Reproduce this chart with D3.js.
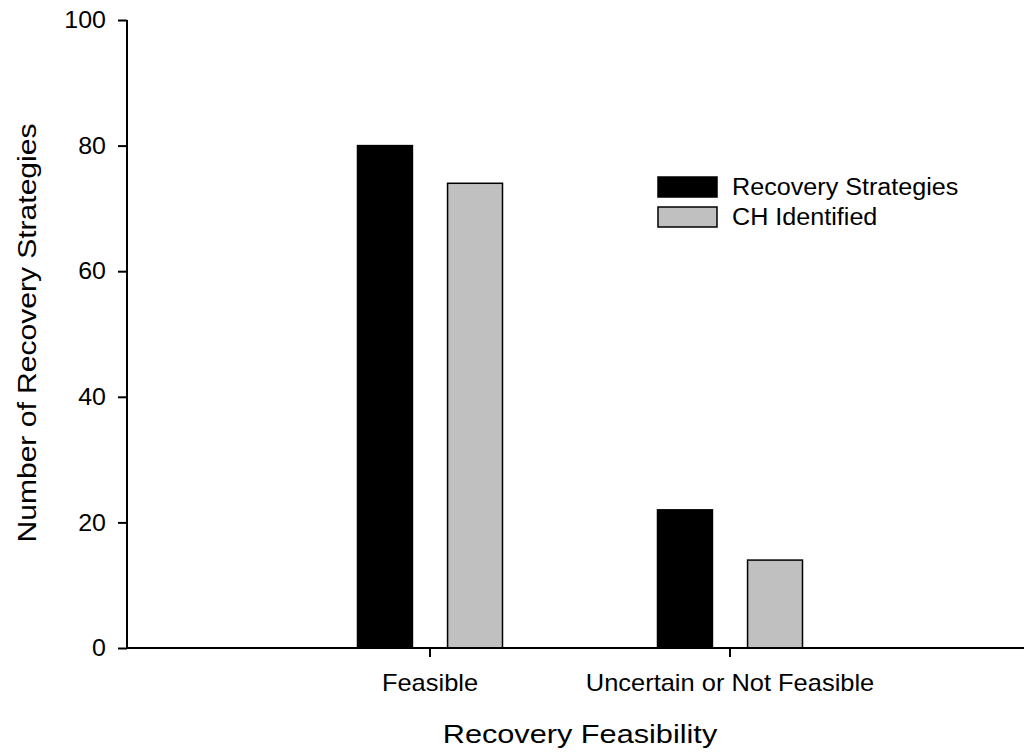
<!DOCTYPE html>
<html>
<head>
<meta charset="utf-8">
<script src="https://cdn.jsdelivr.net/npm/d3@7"></script>
<style>
  body { margin: 0; background: #fff; }
  svg text { font-family: "Liberation Sans", Arial, sans-serif; fill: #000; }
</style>
</head>
<body>
<div id="container"></div>
<script>
const width = 1024,
  height = 755

/* DATA */
const categories = ["Feasible", "Uncertain or Not Feasible"]
const seriesNames = ["Recovery Strategies", "CH Identified"]
const recoveryStrategies = [80, 22]
const chIdentified = [74, 14]
const yTicks = [0, 20, 40, 60, 80, 100]

const seriesColors = ["#000000", "#c0c0c0"]

const rows = categories.map((c, i) => ({
  category: c,
  values: [
    { series: seriesNames[0], value: recoveryStrategies[i] },
    { series: seriesNames[1], value: chIdentified[i] }
  ]
}))

// widen text a bit along its baseline (the original font renders wider)
function stretch(sel, factor) {
  sel.each(function () {
    const w = this.getComputedTextLength()
    d3.select(this)
      .attr("textLength", w * factor)
      .attr("lengthAdjust", "spacingAndGlyphs")
  })
}

/* SCALES */
const yScale = d3.scaleLinear()
  .domain([0, 100])
  .range([648, 20])

const xScale = d3.scaleBand()
  .domain(categories)
  .range([130, 1030])
  .paddingInner(0)
  .paddingOuter(0.5)

const subScale = d3.scaleBand()
  .domain(seriesNames)
  .range([-72.5, 72.5])
  .paddingInner(0.39)

const color = d3.scaleOrdinal().domain(seriesNames).range(seriesColors)

/* SVG */
const svg = d3.select("#container").append("svg")
  .attr("width", width)
  .attr("height", height)

// bars
const group = svg.selectAll("g.group")
  .data(rows)
  .join("g")
  .attr("class", "group")
  .attr("transform", d => `translate(${xScale(d.category) + xScale.bandwidth() / 2},0)`)

group.selectAll("rect")
  .data(d => d.values)
  .join("rect")
  .attr("x", d => subScale(d.series))
  .attr("width", subScale.bandwidth())
  .attr("y", d => yScale(d.value))
  .attr("height", d => yScale(0) - yScale(d.value))
  .attr("fill", d => color(d.series))
  .attr("stroke", "#000")
  .attr("stroke-width", 1.5)

// y axis
const yAxis = d3.axisLeft(yScale)
  .tickValues(yTicks)
  .tickSize(9)
  .tickPadding(12)

svg.append("g")
  .attr("class", "y-axis")
  .attr("transform", "translate(127,0)")
  .call(yAxis)
  .call(g => g.select(".domain").attr("d", `M0,${yScale(100)}V${yScale(0)}`))
  .call(g => g.selectAll("text").attr("font-size", "24px").attr("font-family", "Liberation Sans, Arial, sans-serif"))
  .call(g => stretch(g.selectAll("text"), 1.04))

// x axis
const xAxis = d3.axisBottom(xScale)
  .tickSize(9)
  .tickPadding(17)

svg.append("g")
  .attr("class", "x-axis")
  .attr("transform", `translate(0,${yScale(0)})`)
  .call(xAxis)
  .call(g => g.select(".domain").attr("d", `M127,0H${width}`))
  .call(g => g.selectAll("text").attr("font-size", "24px").attr("font-family", "Liberation Sans, Arial, sans-serif"))
  .call(g => stretch(g.selectAll("text"), 1.06))

svg.selectAll(".domain, .tick line")
  .attr("stroke", "#000")
  .attr("stroke-width", 2)

// axis titles
svg.append("text")
  .attr("x", 580)
  .attr("y", 743)
  .attr("text-anchor", "middle")
  .attr("font-size", "26px")
  .text("Recovery Feasibility")
  .call(s => stretch(s, 1.18))

svg.append("text")
  .attr("transform", "rotate(-90)")
  .attr("x", -333)
  .attr("y", 36)
  .attr("text-anchor", "middle")
  .attr("font-size", "26px")
  .text("Number of Recovery Strategies")
  .call(s => stretch(s, 1.155))

// legend
const legend = svg.append("g")
  .attr("transform", "translate(658,177)")

const item = legend.selectAll("g")
  .data(seriesNames)
  .join("g")
  .attr("transform", (d, i) => `translate(0,${i * 30})`)

item.append("rect")
  .attr("width", 59)
  .attr("height", 20)
  .attr("fill", d => color(d))
  .attr("stroke", "#000")
  .attr("stroke-width", 1.5)

item.append("text")
  .attr("x", 74)
  .attr("y", 18)
  .attr("font-size", "23.5px")
  .text(d => d)
  .call(s => stretch(s, 1.07))
</script>
</body>
</html>
